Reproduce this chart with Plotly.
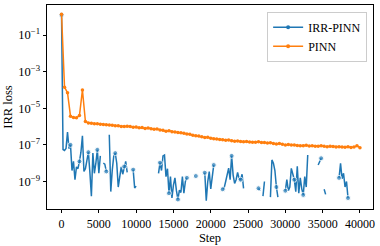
import plotly.graph_objects as go

# ---- data (log10 of IRR loss) ----
blue_step_size = 200
blue_log = [
    0.1, -7.25, -7.3, -7.2, -6.3, -7.2, -7.0, -8.4, -7.9, -8.9,
    -8.2, -8.3, -7.9, -7.4, -6.5, -8.45, -8.3, -7.8, -7.4, -8.5,
    -9.8, -7.45, -8.55, -8.0, -7.27, -8.55, -7.6, None, -8.0, -8.05,
    -8.45, None, -6.45, -9.55, -8.37, -7.6, -7.45, -8.0, -9.3, -8.7,
    -8.2, -8.6, -8.18, -7.9, -8.5, None, None, None, -8.35, -9.35,
    -9.25, None, None, None, None, None, None, None, None, None,
    None, None, None, None, None, -8.55, -7.97, -8.4, -7.6, -7.55,
    -8.73, -8.3, -9.64, -8.73, -9.9, -9.2, -8.8, -9.5, -9.98, -9.47,
    -9.6, -8.73, -9.64, -9.0, -8.8, None, None, None, None, None,
    -8.7, None, None, None, None, None, -8.52, -10.05, -9.0, -8.46,
    -9.4, -8.8, -8.1, None, None, None, None, None, -9.42, -9.35,
    -9.0, -8.65, -8.27, -8.9, -7.6, -8.65, -9.1, -8.9, -8.5, -8.85,
    -8.9, -8.6, -9.37, None, None, None, None, None, None, None,
    None, None, -9.37, -9.5, None, -9.8, -9.0, None, None, None,
    -9.85, -7.82, -8.0, -8.4, -9.3, -9.85, None, None, None, None,
    -9.5, -8.9, -9.5, -9.3, -8.28, -8.6, -8.9, -9.55, -8.17, -9.64,
    -8.8, -9.4, -9.73, -8.73, -9.3, -7.55, None, None, None, None,
    None, None, -8.1, -7.9, -7.73, None, -9.42, -9.7, None, None,
    None, None, None, None, None, None, -8.8, -8.0, -8.85, -8.55,
    -9.3, -9.0, -9.9, None, None, None, None, None, None, None,
    None,
]
orange_step_size = 400
orange_log = [
    0.13, -3.85, -4.15, -5.43, -5.5, -5.52, -5.4, -4.0, -5.72, -5.8,
    -5.82, -5.84, -5.85, -5.87, -5.88, -5.9, -5.91, -5.93, -5.95, -5.96,
    -5.99, -6.0, -5.98, -6.0, -6.03, -6.02, -6.06, -6.05, -6.1, -6.08,
    -6.12, -6.14, -6.13, -6.18, -6.2, -6.25, -6.23, -6.28, -6.3, -6.32,
    -6.34, -6.36, -6.4, -6.42, -6.47, -6.5, -6.52, -6.55, -6.6, -6.58,
    -6.63, -6.66, -6.68, -6.7, -6.72, -6.75, -6.73, -6.77, -6.8, -6.79,
    -6.82, -6.83, -6.81, -6.84, -6.86, -6.85, -6.83, -6.87, -6.87, -6.9,
    -6.88, -6.92, -6.95, -6.93, -6.97, -7.0, -6.98, -7.01, -7.0, -7.03,
    -7.05, -7.04, -7.02, -7.06, -7.05, -7.08, -7.07, -7.05, -7.08, -7.1,
    -7.07, -7.09, -7.12, -7.1, -7.11, -7.13, -7.1, -7.14, -7.12, -7.05,
    -7.15,
]
x_ticks = [0, 5000, 10000, 15000, 20000, 25000, 30000, 35000, 40000]
y_tick_exps = [-1, -3, -5, -7, -9]
series_names = ["IRR-PINN", "PINN"]

blue_x = [i * blue_step_size for i in range(len(blue_log))]
blue_y = [None if v is None else 10 ** v for v in blue_log]
orange_x = [i * orange_step_size for i in range(len(orange_log))]
orange_y = [10 ** v for v in orange_log]

blue_sizes = [5 if i % 6 == 0 else 0 for i in range(len(blue_log))]

BLUE, ORANGE = "#1f77b4", "#ff7f0e"
FONT = "Liberation Serif"
fig = go.Figure()
fig.add_trace(go.Scatter(
    x=blue_x, y=blue_y, name=series_names[0], mode="lines+markers",
    line=dict(color=BLUE, width=1.5),
    marker=dict(color=BLUE, size=blue_sizes),
    connectgaps=False, showlegend=False, legendgroup="irr",
))
fig.add_trace(go.Scatter(
    x=orange_x, y=orange_y, name=series_names[1], mode="lines+markers",
    line=dict(color=ORANGE, width=1.5),
    marker=dict(color=ORANGE, size=3.5),
    showlegend=False, legendgroup="pinn",
))
# legend entries
fig.add_trace(go.Scatter(
    x=[None], y=[None], name=series_names[0], mode="lines+markers",
    line=dict(color=BLUE, width=1.5), marker=dict(color=BLUE, size=4),
    legendgroup="irr",
))
fig.add_trace(go.Scatter(
    x=[None], y=[None], name=series_names[1], mode="lines+markers",
    line=dict(color=ORANGE, width=1.5), marker=dict(color=ORANGE, size=4),
    legendgroup="pinn",
))

fig.update_layout(
    width=380, height=246,
    margin=dict(l=47, r=7, t=5, b=37, autoexpand=False),
    paper_bgcolor="white", plot_bgcolor="white",
    font=dict(family=FONT, size=12, color="black"),
    showlegend=True,
    legend=dict(
        x=0.982, y=0.967, xanchor="right", yanchor="top",
        bgcolor="rgba(255,255,255,0.8)", bordercolor="#cccccc", borderwidth=1,
        font=dict(family=FONT, size=12),
        tracegroupgap=0, itemwidth=30,
    ),
)
fig.update_xaxes(
    range=[-1950, 41750], tickvals=x_ticks, ticktext=[str(t) for t in x_ticks],
    ticks="outside", ticklen=3.5, tickwidth=0.8, tickcolor="black",
    showline=True, linecolor="black", linewidth=0.8, mirror=True,
    showgrid=False, zeroline=False, automargin=False,
    tickfont=dict(family=FONT, size=12),
    title=dict(text="Step", font=dict(family=FONT, size=12.5), standoff=2),
)
fig.update_yaxes(
    type="log", range=[-10.5, 0.64],
    tickvals=[10 ** e for e in y_tick_exps],
    ticktext=["10<sup>\u2212%d</sup>" % (-e) for e in y_tick_exps],
    ticks="outside", ticklen=3.5, tickwidth=0.8, tickcolor="black",
    showline=True, linecolor="black", linewidth=0.8, mirror=True,
    showgrid=False, zeroline=False, automargin=False,
    tickfont=dict(family=FONT, size=12.5),
    title=dict(text="IRR loss", font=dict(family=FONT, size=12.5), standoff=2),
)
fig.write_html(
    "out.html",
    config={"displayModeBar": False},
    post_script="document.body.style.margin='0';document.body.style.overflow='hidden';",
)
